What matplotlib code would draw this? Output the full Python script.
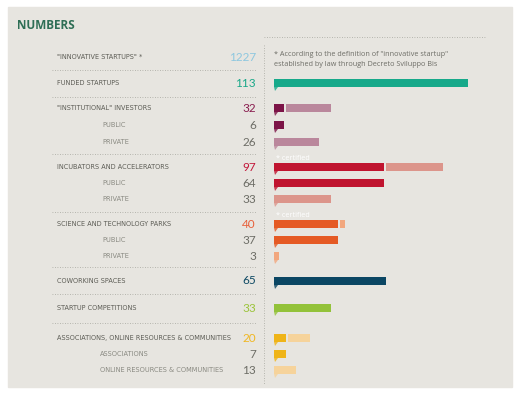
import matplotlib.pyplot as plt
from matplotlib.patches import Polygon, Rectangle

# ---- data -------------------------------------------------------------
labels = [
    '"INNOVATIVE STARTUPS" *', "FUNDED STARTUPS",
    '"INSTITUTIONAL" INVESTORS', "PUBLIC", "PRIVATE",
    "INCUBATORS AND ACCELERATORS", "PUBLIC", "PRIVATE",
    "SCIENCE AND TECHNOLOGY PARKS", "PUBLIC", "PRIVATE",
    "COWORKING SPACES", "STARTUP COMPETITIONS",
    "ASSOCIATIONS, ONLINE RESOURCES & COMMUNITIES", "ASSOCIATIONS",
    "ONLINE RESOURCES & COMMUNITIES",
]
values = [1227, 113, 32, 6, 26, 97, 64, 33, 40, 37, 3, 65, 33, 20, 7, 13]
is_sub = [False, False, False, True, True, False, True, True,
          False, True, True, False, False, False, True, True]
# bar pieces per row: (public/main part, private/secondary part)
bar_main = [0, 113, 6, 6, 0, 64, 64, 0, 37, 37, 0, 65, 33, 7, 7, 0]
bar_second = [0, 0, 26, 0, 26, 33, 0, 33, 3, 0, 3, 0, 0, 13, 0, 13]
certified_rows = [5, 8]
footnote = ['* According to the definition of "innovative startup"',
            "established by law through Decreto Sviluppo Bis"]

# ---- layout / style ---------------------------------------------------
W, H = 522, 394
row_y = [57, 83, 108, 125, 142, 167, 183, 199, 224, 240, 256, 281, 308,
         338, 354, 370]
sep_y = [70, 97, 154, 212, 267, 294, 323]
val_colors = ["#8dc7df", "#1aa889", "#8a1d4f", "#6d6d66", "#6d6d66",
              "#c3173a", "#6d6d66", "#6d6d66", "#e8603a", "#6d6d66",
              "#6d6d66", "#0f4a64", "#9cc43c", "#f0b722", "#6d6d66",
              "#6d6d66"]
main_colors = [None, "#17a98a", "#7c1447", "#7c1447", None, "#c0142f",
               "#c0142f", None, "#e55a24", "#e55a24", None, "#0b4663",
               "#93c23a", "#efb418", "#efb418", None]
second_colors = [None, None, "#ba879c", None, "#ba879c", "#dc958b", None,
                 "#dc958b", "#f2a77e", None, "#f2a77e", None, None,
                 "#f6d39b", None, "#f6d39b"]
BG = "#e7e5e0"
NARROW = ["Liberation Sans Narrow", "DejaVu Sans"]
PX = 1.72  # pixels per unit

fig = plt.figure(figsize=(W / 100, H / 100), dpi=100)
fig.patch.set_facecolor("white")

ax = fig.add_axes([0, 0, 1, 1])
ax.set_xlim(0, W)
ax.set_ylim(H, 0)
ax.axis("off")
ax.add_patch(Rectangle((8, 7), 504, 380, color=BG, zorder=0))

ax.text(17, 25, "NUMBERS", fontsize=8.5, fontweight="bold", color="#2e6e55",
        va="center", ha="left", family=["Open Sans", "DejaVu Sans"])

for i, lab in enumerate(labels):
    y = row_y[i]
    if is_sub[i]:
        x = 100 if i >= 14 else 102
        ax.text(x, y, lab, fontsize=4.8, color="#8a8a82", va="center",
                family=NARROW)
    else:
        ax.text(57, y, lab, fontsize=4.7, color="#5c5c55", va="center",
                family=NARROW)
    ax.text(256, y, str(values[i]), fontsize=8.5, color=val_colors[i],
            va="center", ha="right", family=["Lato", "DejaVu Sans"])

for y in sep_y:
    ax.plot([52, 256], [y, y], ls=(0, (1, 2)), lw=0.6, color="#a5a59d")

# right-hand frame lines
ax.plot([264, 486], [37, 37], ls=(0, (1, 2)), lw=0.6, color="#a5a59d")
ax.plot([264, 264], [45, 385], ls=(0, (1, 2)), lw=0.6, color="#a5a59d")
ax.text(274, 54, footnote[0], fontsize=5.2, color="#6d6d66", va="center",
        family=["Open Sans", "DejaVu Sans"])
ax.text(274, 64, footnote[1], fontsize=5.2, color="#6d6d66", va="center",
        family=["Open Sans", "DejaVu Sans"])

# ---- bars --------------------------------------------------------------
x0 = 274
bx = fig.add_axes([x0 / W, 0, (W - x0) / W, 1])
bx.set_xlim(0, (W - x0) / PX)
bx.set_ylim(H, 0)
bx.axis("off")
gap = 2 / PX
bh = 8
for i in range(len(labels)):
    y = row_y[i]
    m, s = bar_main[i], bar_second[i]
    if m:
        bx.barh(y, m, height=bh, left=0, color=main_colors[i])
    if s:
        left = m + gap if m else 0
        bx.barh(y, s, height=bh, left=left, color=second_colors[i])
    if m or s:
        c = main_colors[i] if m else second_colors[i]
        top = y + bh / 2
        ax.add_patch(Polygon([[x0, top], [x0 + 4, top], [x0 + 1, top + 4]],
                             closed=True, color=c, lw=0, alpha=0.8))

for i in certified_rows:
    ax.text(276, row_y[i] - 9, "* certified", fontsize=5.2, color="white",
            va="center", family=["Open Sans", "DejaVu Sans"])

fig.savefig("out.png", dpi=100, facecolor="white")
